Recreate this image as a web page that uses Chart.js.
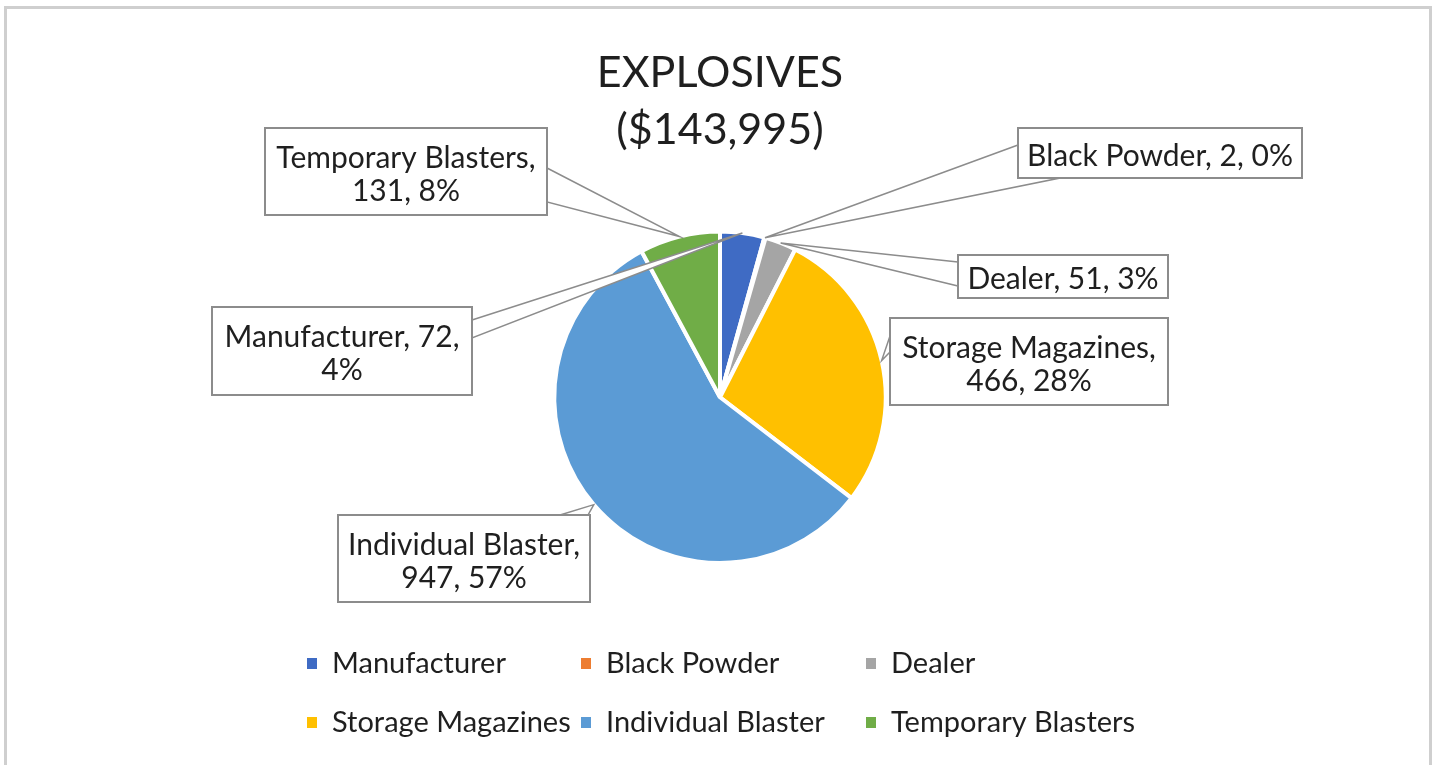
<!DOCTYPE html>
<html>
<head>
<meta charset="utf-8">
<script src="https://cdn.jsdelivr.net/npm/chart.js@4.4.1/dist/chart.umd.min.js"></script>
<style>
  html, body { margin:0; padding:0; background:#fff; }
  #wrap { position:relative; width:1440px; height:765px; overflow:hidden; }
  #frame { position:absolute; left:4px; top:6px; width:1428px; height:800px; border:3px solid #cfcfcf; box-sizing:border-box; }
  canvas { position:absolute; left:0; top:0; }
</style>
</head>
<body>
<div id="wrap">
  <div id="frame"></div>
  <canvas id="c" width="1440" height="765"></canvas>
</div>
<script>
// ---- data ----
const titleLines = ['EXPLOSIVES', '($143,995)'];
const categories = ['Manufacturer', 'Black Powder', 'Dealer', 'Storage Magazines', 'Individual Blaster', 'Temporary Blasters'];
const values = [72, 2, 51, 466, 947, 131];
const colors = ['#3F6BC4', '#ED7D31', '#A5A5A5', '#FFC000', '#5B9BD5', '#70AD47'];

// ---- styling / layout (not data) ----
const FONT = 'Lato';
const TEXT = '#1f1f1f';
// callout boxes: rect + two base points of the pointer wedge
const callouts = [
  { box:[212,307,260,88],  base:[[472,320],[472,338]] },   // Manufacturer
  { box:[1018,128,284,50], base:[[1018,145],[1060,178]] }, // Black Powder
  { box:[958,255,210,43],  base:[[958,262],[958,286]] },   // Dealer
  { box:[890,318,278,87],  base:[[890,336],[890,352]] },   // Storage Magazines
  { box:[338,515,252,87],  base:[[560,515],[588,515]] },   // Individual Blaster
  { box:[265,128,282,87],  base:[[547,168],[547,202]] }    // Temporary Blasters
];
const legendCols = [307, 581, 866];
const legendRows = [663, 722];

const total = values.reduce((a,b)=>a+b,0);

function wrap(ctx, text, maxW) {
  const words = text.split(' ');
  const lines = [];
  let cur = '';
  for (const w of words) {
    const t = cur ? cur + ' ' + w : w;
    if (ctx.measureText(t).width > maxW && cur) { lines.push(cur); cur = w; }
    else cur = t;
  }
  if (cur) lines.push(cur);
  return lines;
}

const calloutPlugin = {
  id: 'callouts',
  afterDatasetsDraw(chart) {
    const ctx = chart.ctx;
    const meta = chart.getDatasetMeta(0);
    ctx.save();
    ctx.font = '30px ' + FONT;
    // wedges
    meta.data.forEach((arc, i) => {
      const p = arc.getProps(['x','y','startAngle','endAngle','outerRadius'], true);
      const mid = (p.startAngle + p.endAngle) / 2;
      const tx = p.x + Math.cos(mid) * p.outerRadius;
      const ty = p.y + Math.sin(mid) * p.outerRadius;
      const c = callouts[i];
      ctx.beginPath();
      ctx.moveTo(c.base[0][0], c.base[0][1]);
      ctx.lineTo(tx, ty);
      ctx.lineTo(c.base[1][0], c.base[1][1]);
      ctx.closePath();
      ctx.fillStyle = '#ffffff';
      ctx.fill();
      ctx.strokeStyle = '#8c8c8c';
      ctx.lineWidth = 1.5;
      ctx.stroke();
    });
    // boxes + text
    meta.data.forEach((arc, i) => {
      const c = callouts[i];
      const [bx, by, bw, bh] = c.box;
      ctx.fillStyle = '#ffffff';
      ctx.fillRect(bx, by, bw, bh);
      ctx.strokeStyle = '#8c8c8c';
      ctx.lineWidth = 2;
      ctx.strokeRect(bx, by, bw, bh);
      const pct = Math.round(values[i] / total * 100);
      const txt = categories[i] + ', ' + values[i] + ', ' + pct + '%';
      const lines = wrap(ctx, txt, bw - 10);
      const lh = 33;
      ctx.fillStyle = TEXT;
      ctx.textAlign = 'center';
      ctx.textBaseline = 'middle';
      const cy = by + bh / 2 - (lines.length - 1) * lh / 2 + 3;
      lines.forEach((l, k) => ctx.fillText(l, bx + bw / 2, cy + k * lh));
    });
    ctx.restore();
  }
};

const legendPlugin = {
  id: 'gridLegend',
  afterDraw(chart) {
    const ctx = chart.ctx;
    ctx.save();
    ctx.font = '29px ' + FONT;
    ctx.textBaseline = 'middle';
    ctx.textAlign = 'left';
    categories.forEach((name, i) => {
      const x = legendCols[i % 3];
      const y = legendRows[Math.floor(i / 3)];
      ctx.fillStyle = colors[i];
      ctx.fillRect(x, y - 5, 10, 11);
      ctx.fillStyle = TEXT;
      ctx.fillText(name, x + 25, y + 1);
    });
    ctx.restore();
  }
};

new Chart(document.getElementById('c'), {
  type: 'pie',
  data: {
    labels: categories,
    datasets: [{
      data: values,
      backgroundColor: colors,
      borderColor: '#ffffff',
      borderWidth: 4
    }]
  },
  options: {
    responsive: false,
    animation: false,
    events: [],
    layout: { padding: { top: 0, left: 551, right: 551, bottom: 200 } },
    plugins: {
      legend: { display: false },
      tooltip: { enabled: false },
      title: {
        display: true,
        text: titleLines,
        color: TEXT,
        font: { family: FONT, size: 43, weight: 'normal', lineHeight: 1.32 },
        padding: { top: 45, bottom: 71 }
      }
    }
  },
  plugins: [calloutPlugin, legendPlugin]
});
</script>
</body>
</html>
